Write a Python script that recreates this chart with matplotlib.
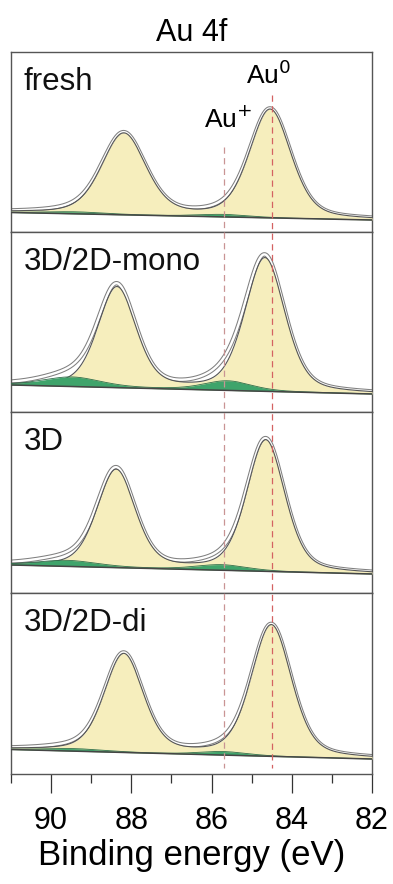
import numpy as np
import matplotlib
matplotlib.use("Agg")
import matplotlib.pyplot as plt
from matplotlib.transforms import blended_transform_factory
from matplotlib.ticker import MultipleLocator

plt.rcParams['font.family'] = ['Liberation Sans', 'DejaVu Sans']

# ---------------- data ----------------
panel_labels = ["fresh", "3D/2D-mono", "3D", "3D/2D-di"]
bg_at_91 = [19.5, 27.0, 28.0, 24.5]          # linear background at 91 eV
bg_at_82 = [12.0, 18.0, 19.0, 15.0]          # linear background at 82 eV

au0_72_pos = [84.54, 84.67, 84.65, 84.51]
au0_52_pos = [88.19, 88.36, 88.38, 88.19]
au0_72_height = [108.0, 133.0, 131.0, 131.0]
au0_52_height = [81.0, 100.0, 97.5, 98.0]
au0_72_fwhm = [1.22, 1.17, 1.12, 1.18]
au0_52_fwhm = [1.30, 1.12, 1.12, 1.15]

aup_72_pos = [85.70, 85.60, 85.75, 85.70]
aup_52_pos = [89.40, 89.48, 89.60, 89.40]
aup_72_height = [2.5, 9.5, 5.5, 3.5]
aup_52_height = [2.0, 9.5, 6.0, 2.5]
aup_72_fwhm = [1.5, 1.4, 1.5, 1.4]
aup_52_fwhm = [1.8, 1.7, 1.8, 1.8]
lorentz_fraction = 0.35

au_plus_line = 85.7
au_zero_line = 84.5

x_ticks = [90, 88, 86, 84, 82]
x_limits = (91, 82)


def pseudo_voigt(e, c, h, w, eta):
    u = (e - c) / w
    return h * (eta / (1 + 4 * u ** 2) + (1 - eta) * np.exp(-4 * np.log(2) * u ** 2))


# ---------------- figure ----------------
W, H = 393, 884
fig = plt.figure(figsize=(W / 100, H / 100), dpi=100)

left_px, right_px = 11, 372
panel_edges_px = [52, 232, 412, 593, 774]

YELLOW = '#f6eebd'
GREEN = '#3fa46b'

energy = np.linspace(82, 91, 901)
axes = []
for i in range(4):
    top, bot = panel_edges_px[i], panel_edges_px[i + 1]
    ax = fig.add_axes([left_px / W, 1 - bot / H, (right_px - left_px) / W, (bot - top) / H])
    axes.append(ax)
    bg = bg_at_82[i] + (energy - 82) / 9.0 * (bg_at_91[i] - bg_at_82[i])
    au0 = (pseudo_voigt(energy, au0_72_pos[i], au0_72_height[i], au0_72_fwhm[i], lorentz_fraction)
           + pseudo_voigt(energy, au0_52_pos[i], au0_52_height[i], au0_52_fwhm[i], lorentz_fraction))
    aup = (pseudo_voigt(energy, aup_72_pos[i], aup_72_height[i], aup_72_fwhm[i], lorentz_fraction)
           + pseudo_voigt(energy, aup_52_pos[i], aup_52_height[i], aup_52_fwhm[i], lorentz_fraction))
    total = bg + au0 + aup

    ax.plot(energy, total, color='#808080', lw=3.2, zorder=1, solid_capstyle='butt')
    ax.plot(energy, total, color='white', lw=1.7, zorder=2, solid_capstyle='butt')
    ax.fill_between(energy, bg, bg + au0, color=YELLOW, lw=0, zorder=3)
    ax.plot(energy, bg + au0, color='#555555', lw=0.8, zorder=3.5)
    ax.fill_between(energy, bg, bg + aup, color=GREEN, lw=0, zorder=4)
    ax.plot(energy, bg + aup, color='#2f6f4a', lw=0.6, zorder=4.2)
    ax.plot(energy, bg, color='#454545', lw=1.1, zorder=5)

    ax.set_xlim(*x_limits)
    ax.set_ylim(0, bot - top)
    ax.text(0.035, 1 - 15 / (bot - top), panel_labels[i], transform=ax.transAxes,
            ha='left', va='top', fontsize=22.5, color='#111111')
    for s in ax.spines.values():
        s.set_color('#555555')
        s.set_linewidth(1.0)
    ax.set_yticks([])
    if i < 3:
        ax.set_xticks([])
    else:
        ax.set_xticks(x_ticks)
        ax.xaxis.set_minor_locator(MultipleLocator(1))
        ax.tick_params(axis='x', which='major', direction='out', length=14, width=0.9,
                       color='#333333', labelsize=22, pad=9)
        ax.tick_params(axis='x', which='minor', direction='out', length=6.5, width=0.9,
                       color='#333333')
        ax.set_xlabel('Binding energy (eV)', fontsize=25, labelpad=2)

# vertical dashed reference lines across panels
trans = blended_transform_factory(axes[3].transData, fig.transFigure)
axes[3].plot([au_plus_line, au_plus_line], [1 - 147 / H, 1 - 768 / H], transform=trans,
             color='#c99494', lw=0.9, ls=(0, (5, 3.5)), clip_on=False, zorder=10)
axes[3].plot([au_zero_line, au_zero_line], [1 - 95 / H, 1 - 768 / H], transform=trans,
             color='#d46262', lw=0.9, ls=(0, (5, 3.5)), clip_on=False, zorder=10)

fig.text(228 / W, 1 - 120 / H, 'Au$^{+}$', ha='center', va='center', fontsize=19)
fig.text(269 / W, 1 - 75 / H, 'Au$^{0}$', ha='center', va='center', fontsize=19)
fig.text(191.5 / W, 1 - 33 / H, 'Au 4f', ha='center', va='center', fontsize=22)

fig.savefig('out.png', dpi=100)
